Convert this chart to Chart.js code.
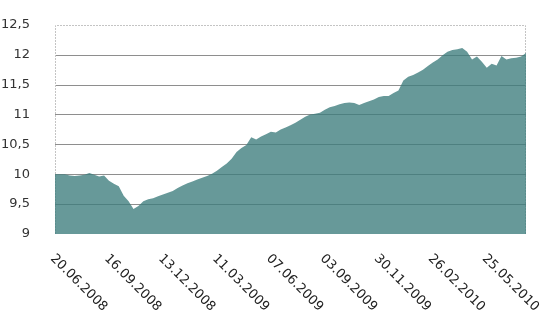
<!DOCTYPE html>
<html>
<head>
<meta charset="utf-8">
<script src="https://cdn.jsdelivr.net/npm/chart.js@4/dist/chart.umd.min.js"></script>
<style>
  html, body { margin: 0; padding: 0; background: #fff; }
  #wrap { width: 544px; height: 312px; }
</style>
</head>
<body>
<div id="wrap"><canvas id="chart" width="544" height="312"></canvas></div>
<script>
// values, one every 8 days starting 20.06.2008
const values = [
  10.00, 10.00, 10.00, 9.98, 9.97, 9.98, 9.99, 10.02, 9.99, 9.96,
  9.98, 9.89, 9.84, 9.80, 9.64, 9.55, 9.42, 9.47, 9.55, 9.58,
  9.60, 9.63, 9.66, 9.69, 9.72, 9.77, 9.81, 9.85, 9.88, 9.91,
  9.94, 9.97, 10.01, 10.06, 10.12, 10.18, 10.26, 10.37, 10.44, 10.49,
  10.62, 10.58, 10.63, 10.67, 10.71, 10.70, 10.75, 10.78, 10.82, 10.86,
  10.91, 10.96, 11.00, 11.01, 11.03, 11.08, 11.12, 11.14, 11.17, 11.19,
  11.20, 11.19, 11.16, 11.19, 11.22, 11.25, 11.29, 11.31, 11.31, 11.36,
  11.40, 11.57, 11.63, 11.66, 11.70, 11.75, 11.81, 11.87, 11.92, 11.99,
  12.05, 12.08, 12.09, 12.11, 12.05, 11.92, 11.97, 11.88, 11.78, 11.85,
  11.82, 11.98, 11.92, 11.94, 11.95, 11.97, 12.03
];

const tickLabels = ['20.06.2008', '16.09.2008', '13.12.2008', '11.03.2009', '07.06.2009',
  '03.09.2009', '30.11.2009', '26.02.2010', '25.05.2010'];

const yTicks = [9, 9.5, 10, 10.5, 11, 11.5, 12, 12.5];

// category dates, 8 days apart
const categories = [];
const start = Date.UTC(2008, 5, 20);
for (let i = 0; i < values.length; i++) {
  const d = new Date(start + i * 8 * 86400000);
  const dd = String(d.getUTCDate()).padStart(2, '0');
  const mm = String(d.getUTCMonth() + 1).padStart(2, '0');
  categories.push(dd + '.' + mm + '.' + d.getUTCFullYear());
}

const FONT = '"DejaVu Sans", Verdana, sans-serif';

// horizontal grid + dotted frame, drawn before the area so it shows through
const gridPlugin = {
  id: 'gridFrame',
  beforeDatasetsDraw(chart) {
    const { ctx, chartArea: a } = chart;
    const ys = chart.scales.y;
    ctx.save();
    ctx.lineWidth = 1;
    ctx.strokeStyle = '#8e8e8e';
    yTicks.forEach(v => {
      if (v === 9 || v === 12.5) return;
      const y = Math.round(ys.getPixelForValue(v)) + 0.5;
      ctx.beginPath();
      ctx.moveTo(a.left, y);
      ctx.lineTo(a.right, y);
      ctx.stroke();
    });
    ctx.strokeStyle = '#c4c4c4';
    ctx.setLineDash([2, 1]);
    ctx.beginPath();
    ctx.moveTo(Math.round(a.left) + 0.5, a.bottom);
    ctx.lineTo(Math.round(a.left) + 0.5, Math.round(a.top) + 0.5);
    ctx.lineTo(Math.round(a.right) - 0.5, Math.round(a.top) + 0.5);
    ctx.lineTo(Math.round(a.right) - 0.5, a.bottom);
    ctx.stroke();
    ctx.restore();
  }
};

// x labels turned 45 degrees clockwise, starting at the tick
const xLabelPlugin = {
  id: 'xLabels',
  afterDraw(chart) {
    const { ctx } = chart;
    const xs = chart.scales.x;
    ctx.save();
    ctx.font = '13px ' + FONT;
    ctx.fillStyle = '#222';
    ctx.textAlign = 'left';
    ctx.textBaseline = 'top';
    tickLabels.forEach(lbl => {
      const idx = categories.indexOf(lbl);
      if (idx < 0) return;
      const x = xs.getPixelForValue(idx);
      ctx.save();
      ctx.translate(x + 2, 252);
      ctx.rotate(Math.PI / 4);
      ctx.fillText(lbl, 0, 0);
      ctx.restore();
    });
    ctx.restore();
  }
};

new Chart(document.getElementById('chart').getContext('2d'), {
  type: 'line',
  data: {
    labels: categories,
    datasets: [{
      data: values,
      fill: 'start',
      backgroundColor: 'rgba(60, 124, 124, 0.78)',
      borderColor: 'rgba(60, 124, 124, 0.78)',
      borderWidth: 0,
      pointRadius: 0,
      tension: 0
    }]
  },
  options: {
    responsive: false,
    animation: false,
    layout: { padding: { left: 0, right: 18, top: 19, bottom: 78 } },
    plugins: {
      legend: { display: false },
      tooltip: { enabled: false }
    },
    scales: {
      x: {
        type: 'category',
        offset: false,
        ticks: { display: false },
        grid: { display: false },
        border: { display: false },
        afterFit: s => { s.height = 0; }
      },
      y: {
        min: 9,
        max: 12.5,
        afterBuildTicks: s => { s.ticks = yTicks.map(v => ({ value: v })); },
        ticks: {
          padding: 17,
          color: '#333',
          font: { family: FONT, size: 13 },
          callback: v => String(v).replace('.', ',')
        },
        grid: { display: false },
        border: { display: false },
        afterFit: s => { s.width = 55; }
      }
    }
  },
  plugins: [gridPlugin, xLabelPlugin]
});
</script>
</body>
</html>
